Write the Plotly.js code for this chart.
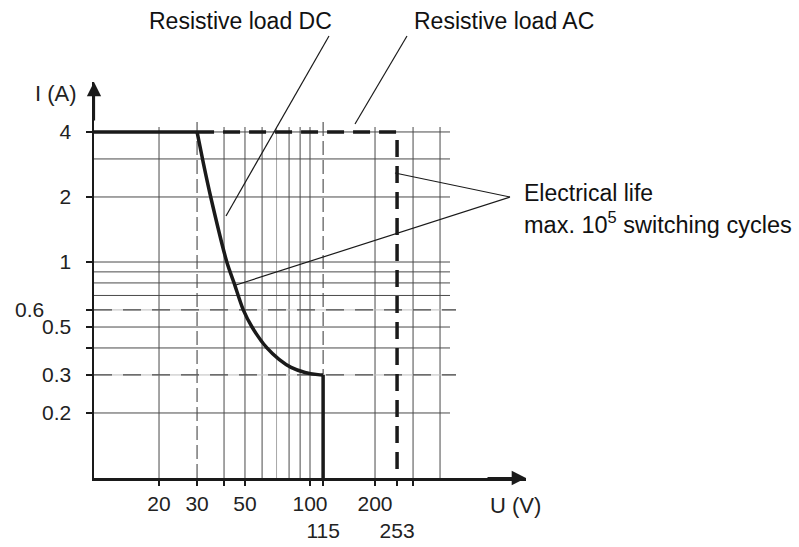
<!DOCTYPE html>
<html>
<head>
<meta charset="utf-8">
<script src="https://cdn.plot.ly/plotly-3.0.1.min.js"></script>
<style>html,body{margin:0;padding:0;background:#fff}#chart{width:799px;height:547px}</style>
</head>
<body>
<div id="chart"></div>
<script>
// ---- data ----
const dcU = [10, 30, 32.1, 34.7, 41.2, 44.5, 49.1, 53.9, 63.2, 71.9, 81.7, 94.8, 108.9, 115, 115];
const dcI = [4, 4, 2.86, 2, 1, 0.8, 0.6, 0.5, 0.4, 0.354, 0.325, 0.308, 0.301, 0.3, 0.1];
const acU = [30, 253, 253];
const acI = [4, 4, 0.1];

const xTickVals = [20, 30, 40, 50, 100, 115, 200, 253, 300];
const xTickText = ["20", "30", "", "50", "100", "<br>115", "200", "<br>253", ""];
const yTickVals = [4, 2, 1, 0.6, 0.5, 0.4, 0.3, 0.2];
const yTickText = ["4", "2", "1", "", "0.5", "", "0.3", "0.2"];

const gridSolidU = [20, 40, 50, 60, 80, 90, 100, 200, 300, 400];
const gridLightU = [70];
const gridDashedU = [30, 115];
const gridSolidI = [4, 3, 2, 1, 0.9, 0.8, 0.7, 0.5, 0.4, 0.2];
const gridDashedI = [0.6, 0.3];

const labelDC = "Resistive load DC";
const labelAC = "Resistive load AC";
const labelLife1 = "Electrical life";
const labelLife2 = "max. 10<sup>5</sup> switching cycles";

// ---- geometry helpers (plot area in px) ----
const L = 94, R = 526, T = 82, B = 478, W = 799, H = 547;
const PPD = 216; // px per decade
const uAt = px => Math.pow(10, 1 + (px - L) / PPD);
const iAt = py => Math.pow(10, -1 + (B - py) / PPD);
const px2p = px => (px - L) / (R - L);
const py2p = py => (B - py) / (B - T);

const FONT = '"Liberation Sans", Arial, Helvetica, sans-serif';
const INK = '#1a1a1a';
const GRID = '#4a4a4a';

function vLines(vals, topPx) {
  const x = [], y = [];
  vals.forEach(v => { x.push(v, v, null); y.push(0.1, iAt(topPx), null); });
  return {x, y};
}
function hLines(vals, rightPx) {
  const x = [], y = [];
  vals.forEach(v => { x.push(10, uAt(rightPx), null); y.push(v, v, null); });
  return {x, y};
}
function lineTrace(d, color, width, dash) {
  return {x: d.x, y: d.y, type: 'scatter', mode: 'lines', hoverinfo: 'skip', showlegend: false,
          line: {color: color, width: width, dash: dash || 'solid'}};
}

const traces = [
  lineTrace(vLines(gridSolidU, 127), GRID, 1),
  lineTrace(vLines(gridLightU, 127), '#a8a8a8', 1),
  lineTrace(vLines(gridDashedU, 117), '#333', 1, '14px,5px'),
  lineTrace(hLines(gridSolidI, 450), GRID, 1),
  lineTrace(hLines(gridDashedI, 456), '#bdbdbd', 1),
  lineTrace(hLines(gridDashedI, 456), GRID, 1.2, '18px,11px'),
  // AC resistive load (dashed)
  {x: acU, y: acI, type: 'scatter', mode: 'lines', hoverinfo: 'skip', showlegend: false,
   line: {color: INK, width: 3.5, dash: '17px,9px'}},
  // DC resistive load: flat part, curve, drop
  {x: dcU.slice(0, 2), y: dcI.slice(0, 2), type: 'scatter', mode: 'lines', hoverinfo: 'skip', showlegend: false,
   line: {color: INK, width: 3.5}},
  {x: dcU.slice(1, 14), y: dcI.slice(1, 14), type: 'scatter', mode: 'lines', hoverinfo: 'skip', showlegend: false,
   line: {color: INK, width: 3.5, shape: 'spline', smoothing: 0.8}},
  {x: dcU.slice(13), y: dcI.slice(13), type: 'scatter', mode: 'lines', hoverinfo: 'skip', showlegend: false,
   line: {color: INK, width: 3.5}}
];

function leader(x0, y0, x1, y1) {
  return {type: 'line', xref: 'paper', yref: 'paper', x0: px2p(x0), y0: py2p(y0), x1: px2p(x1), y1: py2p(y1),
          line: {color: INK, width: 1.2}};
}

const layout = {
  width: W, height: H,
  margin: {l: L, r: W - R, t: T, b: H - B, pad: 0},
  paper_bgcolor: '#fff', plot_bgcolor: 'rgba(0,0,0,0)',
  font: {family: FONT, size: 21, color: '#222'},
  showlegend: false,
  xaxis: {
    type: 'log', range: [1, 3], showgrid: false, zeroline: false,
    showline: true, linecolor: INK, linewidth: 2.5,
    tickmode: 'array', tickvals: xTickVals, ticktext: xTickText, tickangle: 0,
    ticks: 'outside', ticklen: 5, tickwidth: 2, tickcolor: INK, ticklabelstandoff: 0,
    tickfont: {family: FONT, size: 21, color: '#222'}, automargin: false, fixedrange: true
  },
  yaxis: {
    type: 'log', range: [-1, -1 + (B - T) / PPD], showgrid: false, zeroline: false,
    showline: true, linecolor: INK, linewidth: 2.5,
    tickmode: 'array', tickvals: yTickVals, ticktext: yTickText,
    ticks: 'outside', ticklen: 6, tickwidth: 2, tickcolor: INK, ticklabelstandoff: 10,
    tickfont: {family: FONT, size: 21, color: '#222'}, automargin: false, fixedrange: true
  },
  shapes: [
    leader(329, 36, 226, 216),
    leader(407, 36, 355, 124),
    leader(510, 197, 395, 173),
    leader(510, 197, 236, 285)
  ],
  annotations: [
    {xref: 'paper', yref: 'paper', x: 1, y: 0, ax: -40, ay: 0, axref: 'pixel', ayref: 'pixel',
     text: '', showarrow: true, arrowhead: 2, arrowsize: 1.3, arrowwidth: 2.2, arrowcolor: INK},
    {xref: 'paper', yref: 'paper', x: 0, y: 1, ax: 0, ay: 40, axref: 'pixel', ayref: 'pixel',
     text: '', showarrow: true, arrowhead: 2, arrowsize: 1.3, arrowwidth: 2.2, arrowcolor: INK},
    {xref: 'paper', yref: 'y', x: px2p(46), y: Math.log10(0.6), xanchor: 'right', yanchor: 'middle',
     text: '0.6', showarrow: false, font: {family: FONT, size: 21, color: '#222'}},
    {xref: 'paper', yref: 'paper', x: px2p(56), y: py2p(93), xanchor: 'center', yanchor: 'middle',
     text: 'I (A)', showarrow: false, font: {family: FONT, size: 22, color: '#222'}},
    {xref: 'paper', yref: 'paper', x: px2p(515), y: py2p(505), xanchor: 'center', yanchor: 'middle',
     text: 'U (V)', showarrow: false, font: {family: FONT, size: 22, color: '#222'}},
    {xref: 'paper', yref: 'paper', x: px2p(240), y: py2p(21), xanchor: 'center', yanchor: 'middle',
     text: labelDC, showarrow: false, font: {family: FONT, size: 23, color: '#111'}},
    {xref: 'paper', yref: 'paper', x: px2p(504), y: py2p(21), xanchor: 'center', yanchor: 'middle',
     text: labelAC, showarrow: false, font: {family: FONT, size: 23, color: '#111'}},
    {xref: 'paper', yref: 'paper', x: px2p(522), y: py2p(193), xanchor: 'left', yanchor: 'middle',
     text: labelLife1, showarrow: false, font: {family: FONT, size: 23, color: '#111'}},
    {xref: 'paper', yref: 'paper', x: px2p(522), y: py2p(223), xanchor: 'left', yanchor: 'middle',
     text: labelLife2, showarrow: false, font: {family: FONT, size: 23.5, color: '#111'}}
  ]
};

Plotly.newPlot('chart', traces, layout, {displayModeBar: false, staticPlot: true});
</script>
</body>
</html>
